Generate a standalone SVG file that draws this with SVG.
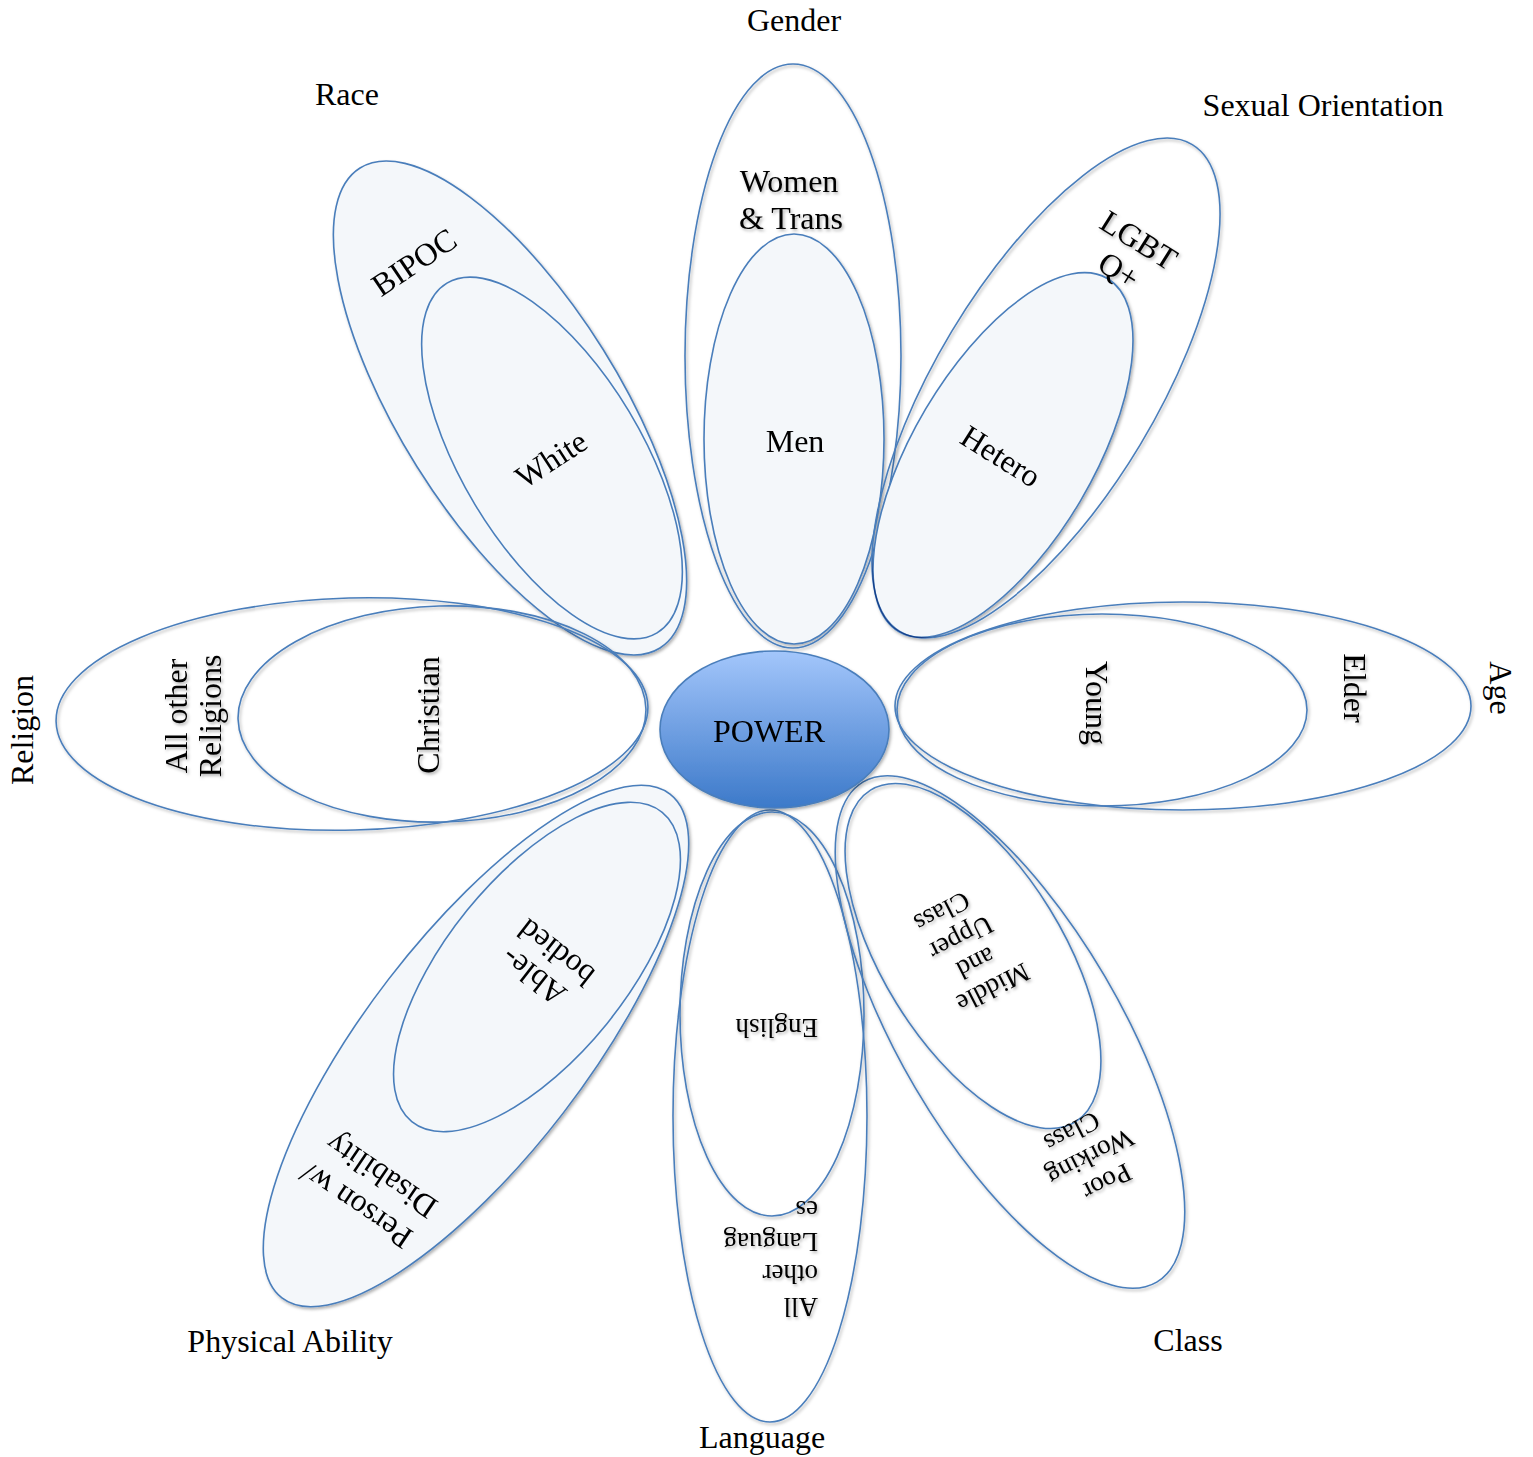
<svg xmlns="http://www.w3.org/2000/svg" width="1533" height="1457" viewBox="0 0 1533 1457">
<style>
  .o{fill:none;stroke:#4a7ebb;stroke-width:1.6}
  .f{fill:#f4f7fa;stroke:#4a7ebb;stroke-width:1.6;mix-blend-mode:multiply}
  .t{font-family:"Liberation Serif","Times New Roman",serif;font-size:32px;fill:#000;text-anchor:middle;dominant-baseline:central}
  .s{font-family:"Liberation Serif","Times New Roman",serif;font-size:27px;fill:#000;text-anchor:middle;dominant-baseline:central}
  .st{text-anchor:start}
  .cat{font-family:"Liberation Serif","Times New Roman",serif;font-size:32px;fill:#000;text-anchor:middle;dominant-baseline:central}
</style>
<defs>
  <filter id="sh" x="-10%" y="-10%" width="120%" height="120%">
    <feDropShadow dx="1.5" dy="2" stdDeviation="1.5" flood-color="#000" flood-opacity="0.3"/>
  </filter>
  <linearGradient id="pw" x1="0" y1="0" x2="0" y2="1">
    <stop offset="0" stop-color="#a3c6fb"/>
    <stop offset="1" stop-color="#3c79c9"/>
  </linearGradient>
</defs>
<rect width="1533" height="1457" fill="#fff"/>

<g id="connectors"></g>

<g id="gender" filter="url(#sh)">
  <ellipse class="o" cx="793" cy="356" rx="108" ry="292"/>
  <ellipse class="f" cx="794" cy="439" rx="90" ry="205"/>
  <text class="t" x="789" y="181">Women</text>
  <text class="t" x="791" y="218">&amp; Trans</text>
  <text class="t" x="795" y="441">Men</text>
</g>

<g id="race" filter="url(#sh)">
  <ellipse class="f" cx="510" cy="408" rx="110" ry="283" transform="rotate(-32 510 408)"/>
  <ellipse class="o" cx="552" cy="458" rx="90" ry="204" transform="rotate(-31 552 458)"/>
  <text class="t" transform="translate(414 262) rotate(-34)">BIPOC</text>
  <text class="t" transform="translate(551 459) rotate(-33)">White</text>
</g>

<g id="sexual-orientation" filter="url(#sh)">
  <ellipse class="o" cx="1046" cy="388" rx="110" ry="284" transform="rotate(31 1046 388)"/>
  <ellipse class="f" cx="1003" cy="455" rx="90" ry="205" transform="rotate(30.6 1003 455)"/>
  <text class="t" transform="translate(1139 240) rotate(32)">LGBT</text>
  <text class="t" transform="translate(1119 270) rotate(32)">Q+</text>
  <text class="t" transform="translate(1001 456) rotate(32)">Hetero</text>
</g>

<g id="religion" filter="url(#sh)">
  <ellipse class="o" cx="352" cy="714" rx="296" ry="116" transform="rotate(-1.5 352 714)"/>
  <ellipse class="o" cx="442" cy="714" rx="204" ry="108" transform="rotate(-1.5 442 714)"/>
  <text class="t" transform="translate(176 716) rotate(-90)">All other</text>
  <text class="t" transform="translate(210 716) rotate(-90)">Religions</text>
  <text class="t" transform="translate(428 715) rotate(-90)">Christian</text>
</g>

<g id="age" filter="url(#sh)">
  <ellipse class="o" cx="1183" cy="706" rx="288" ry="104"/>
  <ellipse class="o" cx="1102" cy="710" rx="205" ry="96"/>
  <text class="t" transform="translate(1097 703) rotate(90)">Young</text>
  <text class="t" transform="translate(1355 688) rotate(90)">Elder</text>
</g>

<g id="physical-ability" filter="url(#sh)">
  <ellipse class="f" cx="476" cy="1046" rx="110" ry="318" transform="rotate(37.6 476 1046)"/>
  <ellipse class="o" cx="537" cy="967" rx="90" ry="199" transform="rotate(39 537 967)"/>
  <text class="t" transform="translate(533 977) rotate(218)">Able-</text>
  <text class="t" transform="translate(556 953) rotate(218)">bodied</text>
  <text class="t" transform="translate(356 1206) rotate(214)">Person w/</text>
  <text class="t" transform="translate(381 1176) rotate(214)">Disability</text>
</g>

<g id="language" filter="url(#sh)">
  <ellipse class="o" cx="770" cy="1116" rx="97" ry="306"/>
  <ellipse class="o" cx="772" cy="1014" rx="92" ry="202"/>
  <text class="s st" transform="translate(818 1028) rotate(180)">English</text>
  <text class="s st" transform="translate(818 1307) rotate(180)">All</text>
  <text class="s st" transform="translate(818 1274) rotate(180)">other</text>
  <text class="s st" transform="translate(818 1242) rotate(180)">Languag</text>
  <text class="s st" transform="translate(818 1210) rotate(180)">es</text>
</g>

<g id="class" filter="url(#sh)">
  <ellipse class="o" cx="1010" cy="1032" rx="110" ry="290" transform="rotate(-30.4 1010 1032)"/>
  <ellipse class="o" cx="973" cy="956" rx="90" ry="195" transform="rotate(-31.7 973 956)"/>
  <text class="s" transform="translate(993 988) rotate(153)">Middle</text>
  <text class="s" transform="translate(976 963) rotate(153)">and</text>
  <text class="s" transform="translate(961 938) rotate(153)">Upper</text>
  <text class="s" transform="translate(942 912) rotate(153)">Class</text>
  <text class="s" transform="translate(1107 1182) rotate(153)">Poor</text>
  <text class="s" transform="translate(1090 1157) rotate(153)">Working</text>
  <text class="s" transform="translate(1072 1132) rotate(153)">Class</text>
</g>

<g id="power" filter="url(#sh)">
  <ellipse cx="774.5" cy="729.5" rx="114.5" ry="78.5" fill="url(#pw)" stroke="#4a7ebb" stroke-width="1.6"/>
  <text class="t" x="769" y="731">POWER</text>
</g>

<g id="category-labels">
  <text class="cat" x="794" y="20">Gender</text>
  <text class="cat" x="347" y="94">Race</text>
  <text class="cat" x="1323" y="105">Sexual Orientation</text>
  <text class="cat" transform="translate(22 730) rotate(-90)">Religion</text>
  <text class="cat" transform="translate(1501 688) rotate(90)">Age</text>
  <text class="cat" x="290" y="1341">Physical Ability</text>
  <text class="cat" x="762" y="1437">Language</text>
  <text class="cat" x="1188" y="1340">Class</text>
</g>
</svg>
